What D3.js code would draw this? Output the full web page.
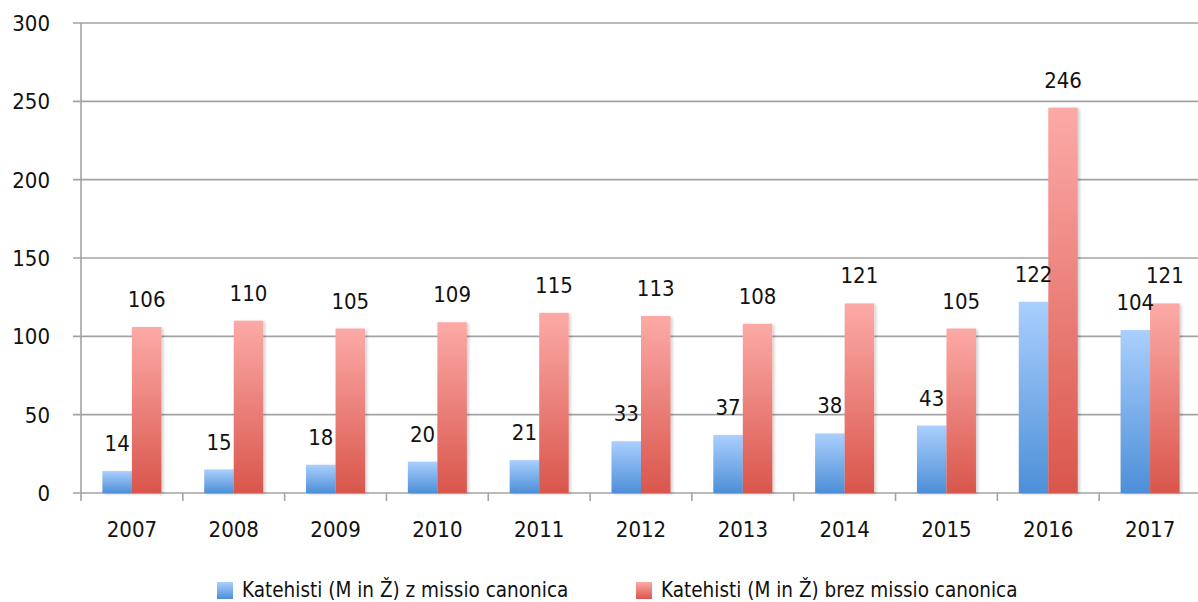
<!DOCTYPE html>
<html>
<head>
<meta charset="utf-8">
<script src="https://cdn.jsdelivr.net/npm/d3@7"></script>
<style>
  body { margin: 0; background: #fff; }
  svg text { font-family: "DejaVu Sans Condensed", "DejaVu Sans", sans-serif; font-stretch: condensed; fill: #111; }
</style>
</head>
<body>
<svg id="chart" width="1198" height="602"></svg>
<script>
// ---- données
var annees = ["2007","2008","2009","2010","2011","2012","2013","2014","2015","2016","2017"];
var avecMissio = [14, 15, 18, 20, 21, 33, 37, 38, 43, 122, 104];
var brezMissio = [106, 110, 105, 109, 115, 113, 108, 121, 105, 246, 121];
var series = ["Katehisti (M in Ž) z missio canonica", "Katehisti (M in Ž) brez missio canonica"];
var ticksY = [0, 50, 100, 150, 200, 250, 300];

// ---- géométrie
var gauche = 81, droite = 1201, haut = 23, bas = 493;
var taille = 22;
var svg = d3.select("#chart");

var defs = svg.append("defs");
function degrade(id, c1, c2){
  var g = defs.append("linearGradient").attr("id", id)
    .attr("x1", 0).attr("y1", 0).attr("x2", 0).attr("y2", 1);
  g.append("stop").attr("offset", "0%").attr("stop-color", c1);
  g.append("stop").attr("offset", "100%").attr("stop-color", c2);
}
degrade("g_bleu", "#aacffd", "#4d8fd8");
degrade("g_rouge", "#fcaaa7", "#d9564c");
var f = defs.append("filter").attr("id", "ombre").attr("x", "-20%").attr("y", "-5%").attr("width", "150%").attr("height", "115%");
f.append("feDropShadow").attr("dx", 2).attr("dy", 1).attr("stdDeviation", 1.5).attr("flood-color", "#000").attr("flood-opacity", 0.18);

var x = d3.scaleBand().domain(annees).range([gauche, droite]).padding(0);
var x1 = d3.scaleBand().domain([0, 1]).range([0, x.bandwidth()]).paddingInner(0).paddingOuter(0.725);
var y = d3.scaleLinear().domain([0, 300]).range([bas, haut]);

// grille
svg.append("g").selectAll("line").data(ticksY).join("line")
  .attr("x1", gauche - 8).attr("x2", 1198)
  .attr("y1", function(d){ return y(d); }).attr("y2", function(d){ return y(d); })
  .attr("stroke", "#a3a3a3").attr("stroke-width", 1.6);

// axe vertical
svg.append("line").attr("x1", gauche).attr("x2", gauche).attr("y1", haut).attr("y2", bas + 8)
  .attr("stroke", "#a3a3a3").attr("stroke-width", 1.6);

// ticks x
svg.append("g").selectAll("line").data(annees.slice(1)).join("line")
  .attr("x1", function(d){ return x(d); }).attr("x2", function(d){ return x(d); })
  .attr("y1", bas).attr("y2", bas + 8)
  .attr("stroke", "#a3a3a3").attr("stroke-width", 1.6);

// labels y
svg.append("g").selectAll("text").data(ticksY).join("text")
  .attr("x", 50).attr("y", function(d){ return y(d) + 8; })
  .attr("text-anchor", "end").attr("font-size", taille)
  .text(function(d){ return d; });

// labels x
svg.append("g").selectAll("text").data(annees).join("text")
  .attr("x", function(d){ return x(d) + x.bandwidth()/2; }).attr("y", 537)
  .attr("text-anchor", "middle").attr("font-size", taille)
  .text(function(d){ return d; });

// barres
var valeurs = [avecMissio, brezMissio];
var grads = ["url(#g_bleu)", "url(#g_rouge)"];
for (var s = 0; s < 2; s++) {
  var g = svg.append("g");
  g.selectAll("rect").data(annees).join("rect")
    .attr("x", function(d){ return x(d) + x1(s); })
    .attr("y", function(d, i){ return y(valeurs[s][i]); })
    .attr("width", x1.bandwidth())
    .attr("height", function(d, i){ return bas - y(valeurs[s][i]); })
    .attr("fill", grads[s])
    .attr("filter", "url(#ombre)");
}
for (var s = 0; s < 2; s++) {
  svg.append("g").selectAll("text").data(annees).join("text")
    .attr("x", function(d){ return x(d) + x1(s) + x1.bandwidth()/2; })
    .attr("y", function(d, i){ return y(valeurs[s][i]) - 20; })
    .attr("text-anchor", "middle").attr("font-size", taille)
    .text(function(d, i){ return valeurs[s][i]; });
}

// légende
var legX = [217, 636];
var couleurs = ["url(#g_bleu)", "url(#g_rouge)"];
var leg = svg.append("g").selectAll("g").data(series).join("g")
  .attr("transform", function(d, i){ return "translate(" + legX[i] + ",582)"; });
leg.append("rect").attr("width", 16).attr("height", 17)
  .attr("fill", function(d, i){ return couleurs[i]; });
leg.append("text").attr("x", 25).attr("y", 15).attr("font-size", 20.5)
  .text(function(d){ return d; });
</script>
</body>
</html>
